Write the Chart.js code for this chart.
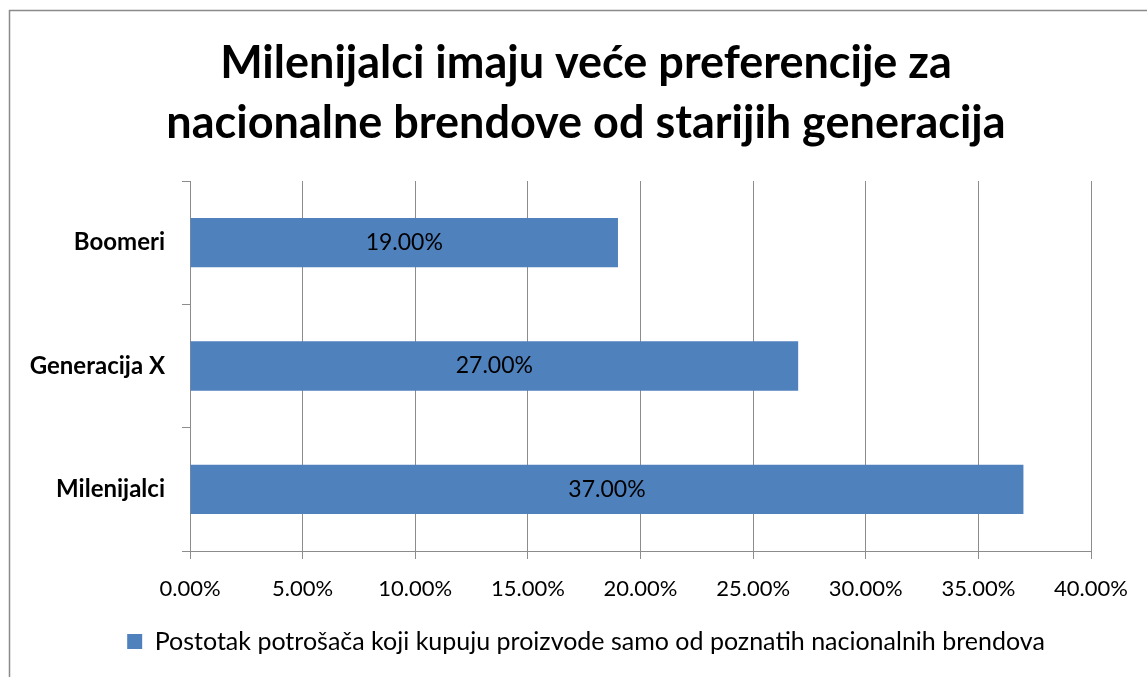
<!DOCTYPE html>
<html>
<head>
<meta charset="utf-8">
<script src="https://cdn.jsdelivr.net/npm/chart.js@4"></script>
<style>
html,body{margin:0;padding:0;background:#fff;}
#wrap{width:1147px;height:677px;position:relative;}
</style>
</head>
<body>
<div id="wrap"><canvas id="c" width="1147" height="677"></canvas></div>
<script>
const categories = ['Boomeri', 'Generacija X', 'Milenijalci'];
const seriesValues = [19, 27, 37];
const seriesName = 'Postotak potrošača koji kupuju proizvode samo od poznatih nacionalnih brendova';
const xTickLabels = ['0.00%', '5.00%', '10.00%', '15.00%', '20.00%', '25.00%', '30.00%', '35.00%', '40.00%'];
const titleLines = ['Milenijalci imaju veće preferencije za', 'nacionalne brendove od starijih generacija'];

const FONT = "Lato, 'Open Sans', sans-serif";
const GRID = '#8c8c8c';

const framePlugin = {
  id: 'frame',
  beforeDraw(chart) {
    const ctx = chart.ctx;
    ctx.save();
    ctx.fillStyle = '#fff';
    ctx.fillRect(0, 0, chart.width, chart.height);
    ctx.strokeStyle = '#8a8a8a';
    ctx.lineWidth = 1.5;
    ctx.strokeRect(9.5, 10.5, chart.width + 10, chart.height + 10);
    ctx.restore();
  }
};

// centre the title and legend on the frame rather than on the padded box
const centerPlugin = {
  id: 'centerBlocks',
  afterLayout(chart) {
    if (chart.titleBlock) { chart.titleBlock.left = 81; }
    if (chart.legend) { chart.legend.left = 81; }
  }
};

const labelPlugin = {
  id: 'barLabels',
  afterDatasetsDraw(chart) {
    const ctx = chart.ctx;
    const meta = chart.getDatasetMeta(0);
    ctx.save();
    ctx.font = '23px ' + FONT;
    ctx.fillStyle = '#000';
    ctx.textAlign = 'center';
    ctx.textBaseline = 'middle';
    meta.data.forEach((bar, i) => {
      const x = (bar.x + bar.base) / 2;
      ctx.fillText(seriesValues[i].toFixed(2) + '%', x, bar.y);
    });
    ctx.restore();
  }
};

new Chart(document.getElementById('c'), {
  type: 'bar',
  data: {
    labels: categories,
    datasets: [{
      label: seriesName,
      data: seriesValues,
      backgroundColor: '#4F81BD',
      borderWidth: 0,
      categoryPercentage: 1,
      barPercentage: 0.4
    }]
  },
  options: {
    indexAxis: 'y',
    responsive: false,
    animation: false,
    layout: { padding: { left: 10, right: 56, top: 33, bottom: 13 } },
    plugins: {
      title: {
        display: true,
        text: titleLines,
        color: '#000',
        font: { family: FONT, size: 45, weight: 'bold', lineHeight: 60 / 45 },
        padding: { top: 0, bottom: 28 }
      },
      legend: {
        position: 'bottom',
        labels: {
          color: '#000',
          font: { family: FONT, size: 25 },
          boxWidth: 15,
          boxHeight: 15,
          padding: 10
        }
      },
      tooltip: { enabled: false }
    },
    scales: {
      x: {
        min: 0,
        max: 40,
        ticks: {
          stepSize: 5,
          color: '#000',
          font: { family: FONT, size: 22 },
          padding: 17,
          maxRotation: 0,
          callback: (v, i) => xTickLabels[i]
        },
        grid: { color: GRID, lineWidth: 1, tickLength: 8 },
        border: { color: GRID, width: 1 },
        afterFit: s => { s.height = 68; }
      },
      y: {
        ticks: {
          color: '#000',
          font: { family: FONT, size: 24, weight: 'bold' },
          padding: 17
        },
        grid: { drawOnChartArea: false, drawTicks: true, tickLength: 8, offset: true, color: GRID },
        border: { color: GRID, width: 1 },
        afterFit: s => { s.width = 180; }
      }
    }
  },
  plugins: [framePlugin, centerPlugin, labelPlugin]
});
</script>
</body>
</html>
